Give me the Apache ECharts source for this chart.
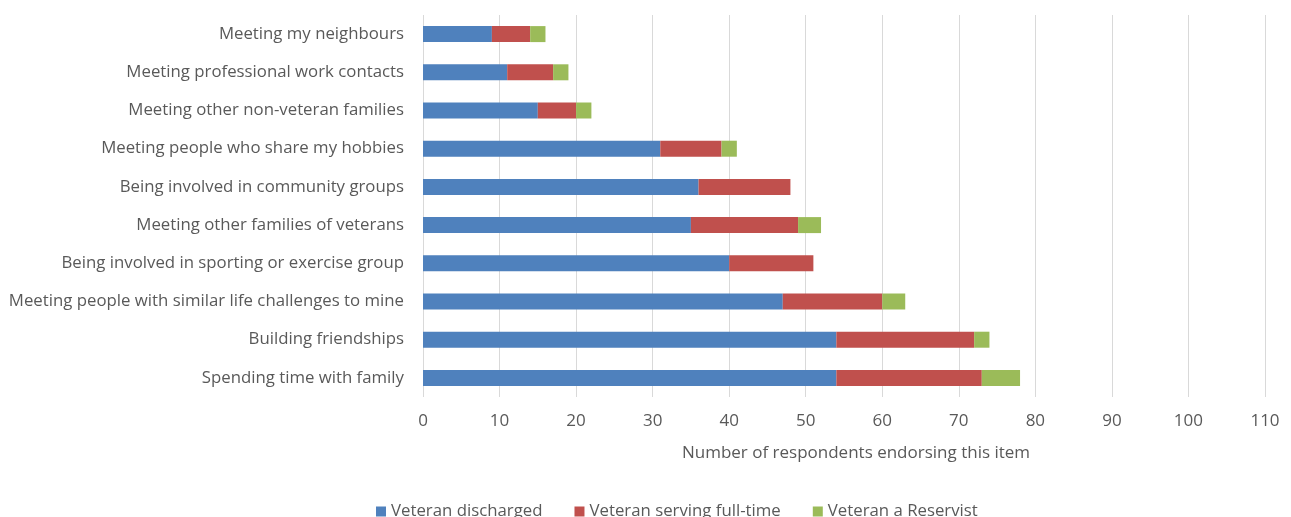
<!DOCTYPE html>
<html>
<head>
<meta charset="utf-8">
<script src="https://cdn.jsdelivr.net/npm/echarts@6/dist/echarts.min.js"></script>
<style>
  html, body { margin: 0; padding: 0; background: #fff; }
  #chart { width: 1291px; height: 517px; }
</style>
</head>
<body>
<div id="chart"></div>
<script>
// Activities, listed bottom-to-top as drawn on the category axis
const categories = [
  'Spending time with family',
  'Building friendships',
  'Meeting people with similar life challenges to mine',
  'Being involved in sporting or exercise group',
  'Meeting other families of veterans',
  'Being involved in community groups',
  'Meeting people who share my hobbies',
  'Meeting other non-veteran families',
  'Meeting professional work contacts',
  'Meeting my neighbours'
];
const discharged = [54, 54, 47, 40, 35, 36, 31, 15, 11, 9];
const servingFullTime = [19, 18, 13, 11, 14, 12, 8, 5, 6, 5];
const reservist = [5, 2, 3, 0, 3, 0, 2, 2, 2, 2];
const seriesNames = ['Veteran discharged', 'Veteran serving full-time', 'Veteran a Reservist'];
const seriesColors = ['#4f81bd', '#c0504d', '#9bbb59'];

const font = '"Open Sans", Lato, sans-serif';
const textColor = '#595959';

const chart = echarts.init(document.getElementById('chart'), null, { renderer: 'canvas' });

const makeSeries = (name, data, color) => ({
  name: name,
  type: 'bar',
  stack: 'total',
  data: data,
  barWidth: 16,
  itemStyle: { color: color },
  emphasis: { disabled: true }
});

chart.setOption({
  animation: false,
  textStyle: { fontFamily: font },
  grid: { left: 423, right: 26, top: 15, bottom: 120, containLabel: false },
  xAxis: {
    type: 'value',
    min: 0,
    max: 110,
    interval: 10,
    name: 'Number of respondents endorsing this item',
    nameLocation: 'middle',
    nameGap: 48,
    nameTextStyle: { fontFamily: font, fontSize: 17, color: textColor, padding: [0, 0, 0, 24] },
    axisLine: { show: false },
    axisTick: { show: false },
    axisLabel: { fontFamily: font, fontSize: 17, color: textColor, margin: 16 },
    splitLine: { show: true, lineStyle: { color: '#d9d9d9', width: 1 } }
  },
  yAxis: {
    type: 'category',
    data: categories,
    axisLine: { show: false },
    axisTick: { show: false },
    axisLabel: { fontFamily: font, fontSize: 16.8, color: textColor, margin: 19 }
  },
  legend: {
    data: seriesNames,
    left: 371,
    top: 498,
    itemWidth: 10,
    itemHeight: 10,
    itemGap: 32,
    icon: 'rect',
    textStyle: { fontFamily: font, fontSize: 16.8, color: textColor }
  },
  series: [
    makeSeries(seriesNames[0], discharged, seriesColors[0]),
    makeSeries(seriesNames[1], servingFullTime, seriesColors[1]),
    makeSeries(seriesNames[2], reservist, seriesColors[2])
  ]
});
</script>
</body>
</html>
